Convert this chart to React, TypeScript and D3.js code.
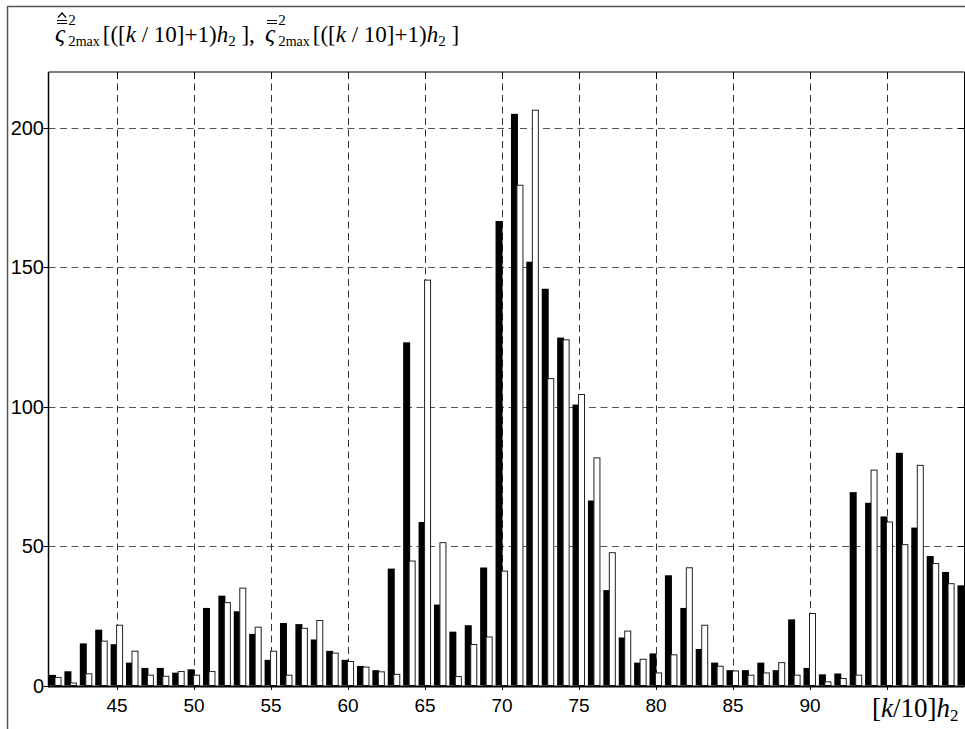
import * as d3 from "d3";

// [k/10]h2 positions, one pair of bars per step
const kValues = d3.range(41, 101);

// black bars: hat-double-bar series
const hatSeries = [
  3.8, 5.1, 15.1, 20.0, 14.8, 8.2, 6.3, 6.3, 4.6, 5.8,
  27.8, 32.2, 26.6, 18.5, 9.2, 22.4, 22.0, 16.5, 12.4, 9.2,
  7.0, 5.5, 41.9, 123.0, 58.6, 29.0, 19.3, 21.6, 42.3, 166.5,
  204.9, 151.9, 142.2, 124.7, 100.7, 66.3, 34.2, 17.2, 8.2, 11.5,
  39.5, 27.8, 13.1, 8.2, 5.5, 5.5, 8.2, 5.5, 23.7, 6.3,
  4.0, 4.3, 69.3, 65.5, 60.6, 83.4, 56.6, 46.4, 40.7, 35.9,
];

// white bars: double-bar series (last one falls outside the frame)
const barSeries = [
  2.9, 0.9, 4.2, 15.9, 21.6, 12.3, 3.7, 3.3, 5.0, 3.7,
  5.0, 29.7, 34.9, 20.9, 12.3, 3.7, 20.5, 23.3, 11.6, 8.6,
  6.6, 4.9, 4.0, 44.6, 145.3, 51.2, 3.2, 14.7, 17.4, 41.0,
  179.3, 206.2, 110.0, 123.9, 104.3, 81.6, 47.6, 19.5, 9.4, 4.5,
  11.0, 42.2, 21.6, 6.9, 5.2, 3.7, 4.5, 8.2, 3.7, 25.8,
  1.3, 2.5, 3.7, 77.2, 58.6, 50.5, 78.9, 43.7, 36.5, null,
];

const xGrid = [45, 50, 55, 60, 65, 70, 75, 80, 85, 90, 95];
const xTickLabels = ["45", "50", "55", "60", "65", "70", "75", "80", "85", "90"];
const yTicks = [0, 50, 100, 150, 200];

const W = 965;
const H = 729;
const plot = { left: 48.5, right: 964.5, top: 72, bottom: 686 };

const serif = "'Liberation Serif', 'Times New Roman', serif";
const sans = "'Liberation Sans', Arial, sans-serif";

// one title expression: varsigma with accents, sup/sub, argument
const TitleExpr = ({ x, hat, comma }: { x: number; hat: boolean; comma: boolean }) => (
  <g>
    <line x1={x + 2} x2={x + 12} y1={20.5} y2={20.5} stroke="#000" strokeWidth={1} />
    <line x1={x + 2} x2={x + 12} y1={23.5} y2={23.5} stroke="#000" strokeWidth={1} />
    {hat && (
      <path d={`M${x + 3},17.5 L${x + 7},13 L${x + 11},17.5`} fill="none" stroke="#000" strokeWidth={1.2} />
    )}
    <text x={x} y={42} fontFamily={serif} fontSize={23}>
      <tspan fontStyle="italic" fontSize={25}>ς</tspan>
      <tspan fontSize={15} dx={3} dy={-17}>2</tspan>
      <tspan fontSize={15} dx={-7.5} dy={21}>2</tspan>
      <tspan fontSize={14}>max</tspan>
      <tspan dx={3} dy={-4}>[([</tspan>
      <tspan fontStyle="italic">k</tspan>
      <tspan> / 10]+1)</tspan>
      <tspan fontStyle="italic">h</tspan>
      <tspan fontSize={15} dy={4}>2</tspan>
      <tspan dy={-4}>{comma ? " ]," : " ]"}</tspan>
    </text>
  </g>
);

export default function App() {
  const x = d3.scaleLinear().domain([45, 90]).range([117.1, 810]);
  const y = d3.scaleLinear().domain([0, 220]).range([685.5, 71.7]);

  const blackW = 7;
  const whiteW = 6;

  return (
    <svg
      width={W}
      height={H}
      viewBox={`0 0 ${W} ${H}`}
      style={{ position: "absolute", left: 0, top: 0, background: "#fff" }}
    >
      <defs>
        <clipPath id="plotClip">
          <rect x={plot.left} y={plot.top} width={plot.right - plot.left} height={plot.bottom - plot.top + 2} />
        </clipPath>
      </defs>

      {/* outer frame */}
      <line x1={7.5} x2={7.5} y1={6.5} y2={H} stroke="#555" strokeWidth={1.5} />
      <line x1={7} x2={W} y1={6.5} y2={6.5} stroke="#555" strokeWidth={1.5} />

      <TitleExpr x={55} hat={true} comma={true} />
      <TitleExpr x={265} hat={false} comma={false} />

      {/* grid */}
      {yTicks.filter((t) => t > 0).map((t) => (
        <line
          key={"hy" + t}
          x1={plot.left}
          x2={plot.right}
          y1={Math.round(y(t)) + 0.5}
          y2={Math.round(y(t)) + 0.5}
          stroke="#555"
          strokeDasharray="7 4.5"
        />
      ))}
      {xGrid.map((t) => (
        <line
          key={"vx" + t}
          x1={Math.round(x(t)) + 0.5}
          x2={Math.round(x(t)) + 0.5}
          y1={plot.top}
          y2={plot.bottom}
          stroke="#333"
          strokeDasharray="7 4.5"
        />
      ))}

      {/* bars */}
      <g clipPath="url(#plotClip)">
        {kValues.map((k, i) => (
          <rect
            key={"b" + k}
            x={x(k) - 6.5}
            y={y(hatSeries[i])}
            width={blackW}
            height={y(0) - y(hatSeries[i])}
            fill="#000"
          />
        ))}
        {kValues.map((k, i) =>
          barSeries[i] == null ? null : (
            <rect
              key={"w" + k}
              x={x(k) - 0.5}
              y={y(barSeries[i] as number)}
              width={whiteW}
              height={y(0) - y(barSeries[i] as number)}
              fill="#fff"
              stroke="#222"
              strokeWidth={1}
            />
          )
        )}
      </g>

      {/* plot frame */}
      <line x1={plot.left} x2={plot.right} y1={plot.top} y2={plot.top} stroke="#000" strokeWidth={1} />
      <line x1={plot.right} x2={plot.right} y1={plot.top} y2={plot.bottom} stroke="#000" strokeWidth={1} />
      <line x1={plot.left} x2={plot.left} y1={plot.top} y2={plot.bottom + 1.5} stroke="#000" strokeWidth={1.5} />
      <line x1={plot.left} x2={plot.right} y1={plot.bottom + 0.5} y2={plot.bottom + 0.5} stroke="#000" strokeWidth={2} />

      {/* y ticks and labels */}
      {yTicks.map((t) => (
        <g key={"yt" + t}>
          <line x1={plot.left - 5} x2={plot.left} y1={Math.round(y(t)) + 0.5} y2={Math.round(y(t)) + 0.5} stroke="#000" />
          <line x1={plot.right - 6} x2={plot.right} y1={Math.round(y(t)) + 0.5} y2={Math.round(y(t)) + 0.5} stroke="#000" />
          <text
            x={44}
            y={y(t)}
            textAnchor="end"
            dominantBaseline="central"
            fontFamily={sans}
            fontSize={20}
          >
            {t}
          </text>
        </g>
      ))}

      {/* x ticks and labels */}
      {xGrid.map((t) => (
        <g key={"xt" + t}>
          <line x1={Math.round(x(t)) + 0.5} x2={Math.round(x(t)) + 0.5} y1={plot.bottom} y2={plot.bottom + 4} stroke="#000" />
          <line x1={Math.round(x(t)) + 0.5} x2={Math.round(x(t)) + 0.5} y1={plot.top} y2={plot.top + 7} stroke="#000" />
        </g>
      ))}
      {xTickLabels.map((lab) => (
        <text key={"xl" + lab} x={x(+lab)} y={712} textAnchor="middle" fontFamily={sans} fontSize={19}>
          {lab}
        </text>
      ))}

      {/* axis label */}
      <text x={872} y={717} fontFamily={serif} fontSize={27}>
        <tspan>[</tspan>
        <tspan fontStyle="italic">k</tspan>
        <tspan>/10]</tspan>
        <tspan fontStyle="italic">h</tspan>
        <tspan fontSize={17} dy={4}>2</tspan>
      </text>
    </svg>
  );
}
